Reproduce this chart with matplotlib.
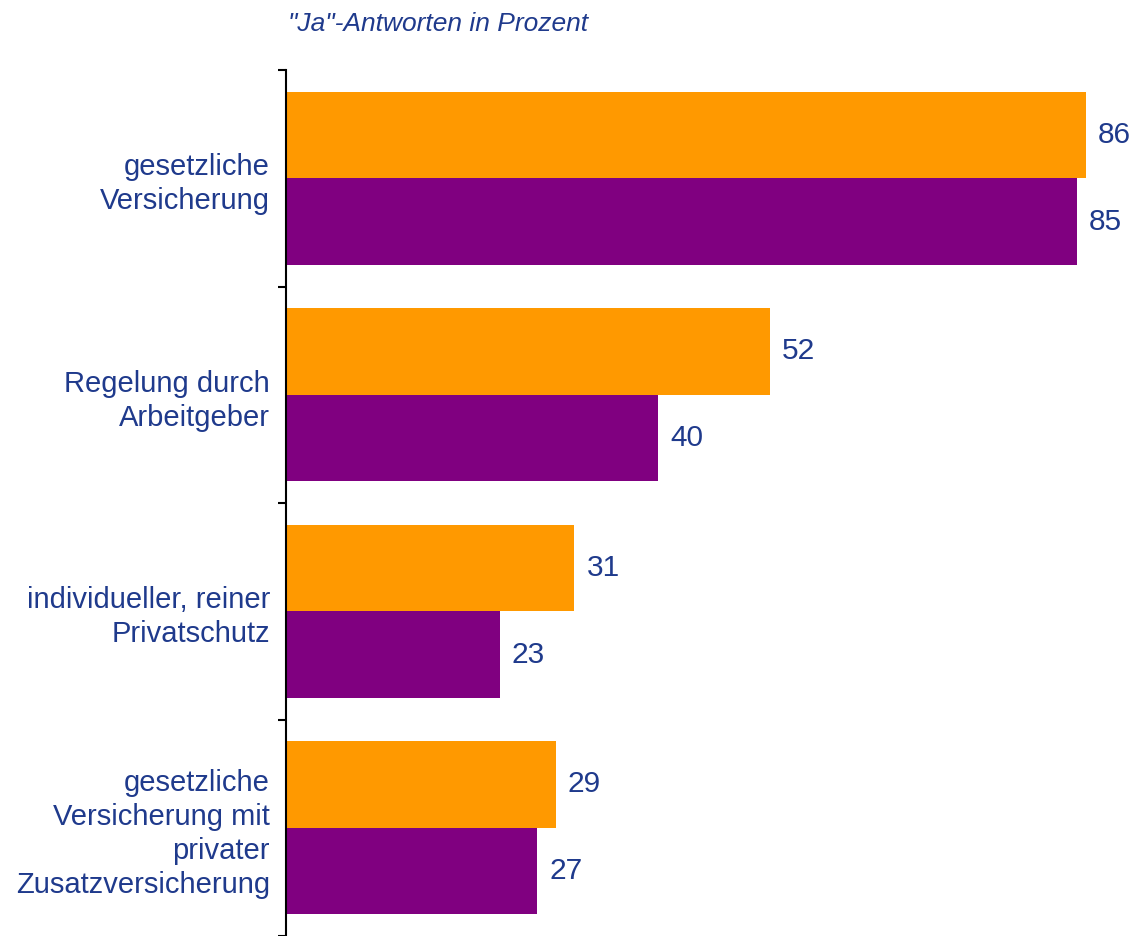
import matplotlib.pyplot as plt
import numpy as np

plt.rcParams['font.family'] = ['Liberation Sans', 'DejaVu Sans']

categories = ["gesetzliche\nVersicherung",
              "Regelung durch\nArbeitgeber",
              "individueller, reiner\nPrivatschutz",
              "gesetzliche\nVersicherung mit\nprivater\nZusatzversicherung"]
series_orange = [86, 52, 31, 29]
series_purple = [85, 40, 23, 27]
title = '"Ja"-Antworten in Prozent'

TXT = '#1F3A8C'
ORANGE = '#FF9900'
PURPLE = '#800080'

W, H = 1137, 936
fig = plt.figure(figsize=(W/100, H/100), dpi=100)
ax = fig.add_axes([286/W, 0, (W-286)/W, 866/H])

y = np.arange(len(categories))
ax.barh(y - 0.2, series_orange, height=0.4, color=ORANGE)
ax.barh(y + 0.2, series_purple, height=0.4, color=PURPLE)

for yi, v in zip(y, series_orange):
    ax.annotate(str(v), (v, yi - 0.2), xytext=(12*0.72, 0), textcoords='offset points',
                va='center', ha='left', fontsize=21.5, color=TXT)
for yi, v in zip(y, series_purple):
    ax.annotate(str(v), (v, yi + 0.2), xytext=(12*0.72, 0), textcoords='offset points',
                va='center', ha='left', fontsize=21.5, color=TXT)

ax.set_xlim(0, (W-286)/9.302)
ax.set_ylim(len(categories) - 0.5, -0.5)

for s in ['top', 'right', 'bottom']:
    ax.spines[s].set_visible(False)
ax.spines['left'].set_linewidth(1.5)
ax.set_xticks([])
ax.set_yticks(np.arange(len(categories) + 1) - 0.5)
ax.set_yticklabels([])
ax.tick_params(axis='y', which='major', direction='out', length=6, width=1.5)
ax.set_yticks(y, minor=True)
ax.set_yticklabels(categories, minor=True, fontsize=21, color=TXT, ha='right',
                   linespacing=1.27)
ax.tick_params(axis='y', which='minor', length=0, pad=11.5)

fig.text(288/W, 1 - 31/H, title, fontsize=19, style='italic', color=TXT,
         ha='left', va='baseline')

fig.savefig('out.png', dpi=100)
